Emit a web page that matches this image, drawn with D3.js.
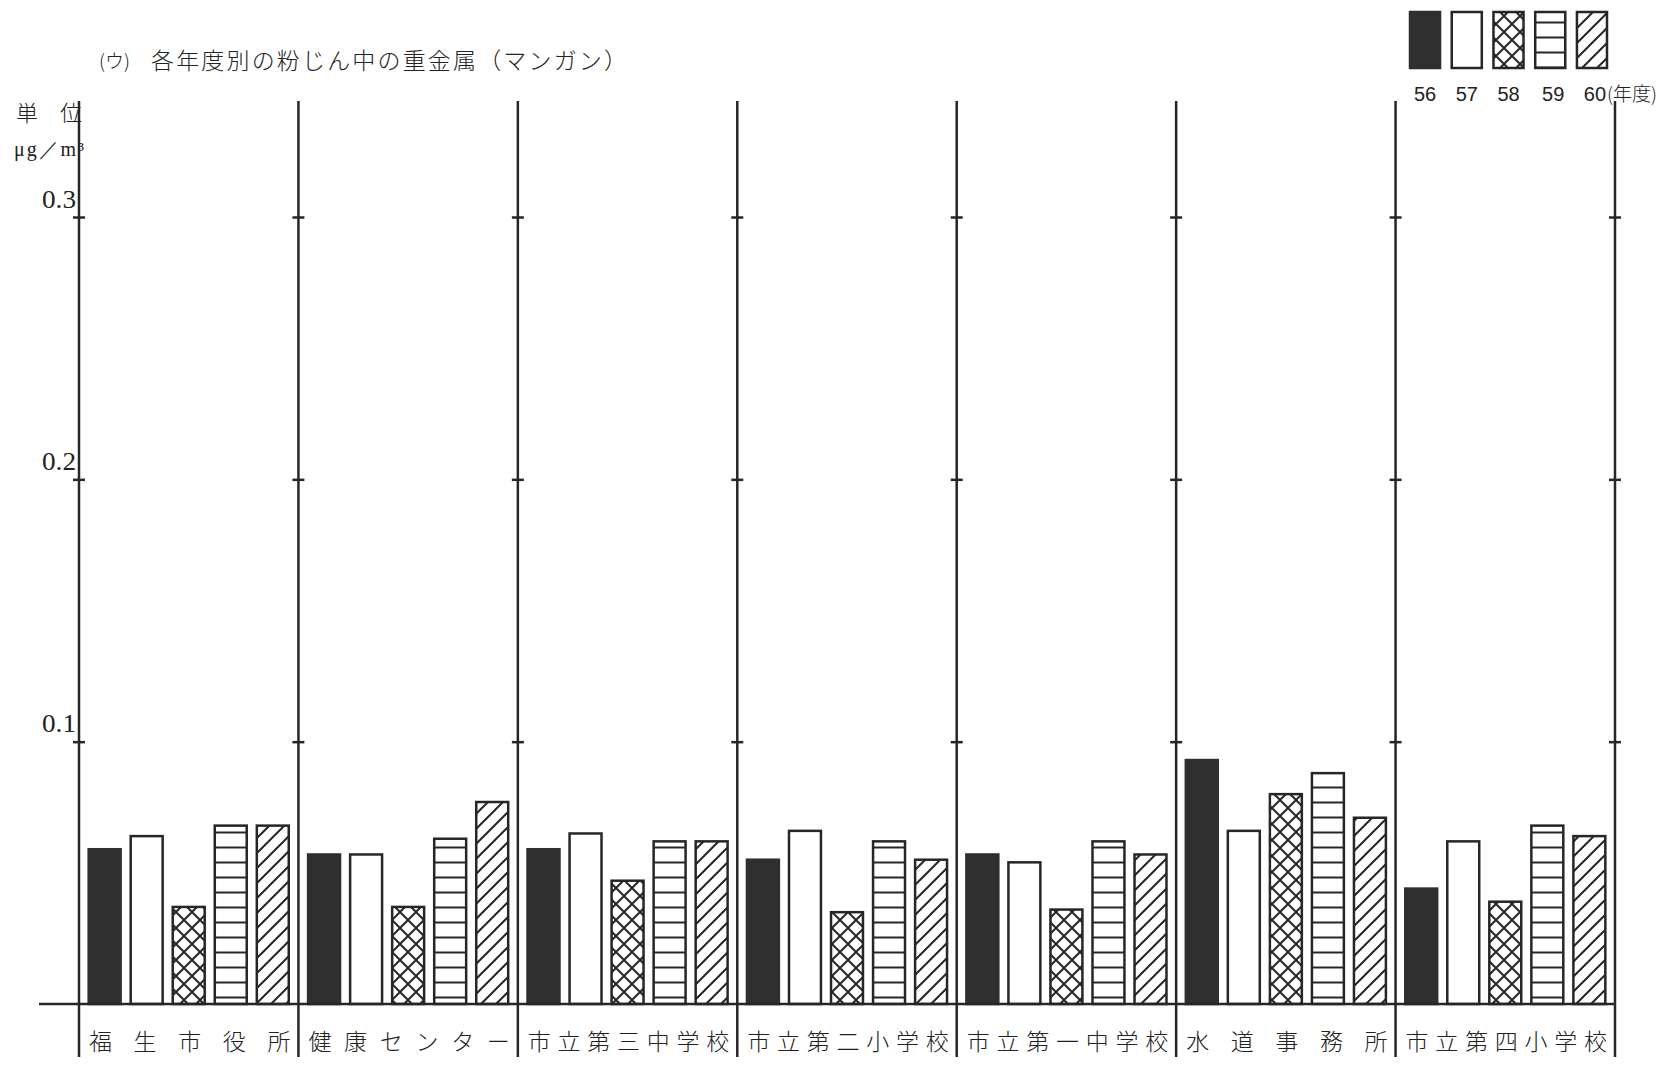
<!DOCTYPE html>
<html><head><meta charset="utf-8">
<script src="https://cdn.jsdelivr.net/npm/d3@7"></script>
<style>
body{margin:0;background:#fff;}
svg{display:block;}
text{fill:#222;}
</style></head>
<body>
<svg id="chart" width="1665" height="1067"></svg>
<script>
const categories = ["福生市役所","健康センター","市立第三中学校","市立第二小学校","市立第一中学校","水道事務所","市立第四小学校"];
const years = ["56","57","58","59","60"];
const y56 = [0.059, 0.057, 0.059, 0.055, 0.057, 0.093, 0.044];
const y57 = [0.064, 0.057, 0.065, 0.066, 0.054, 0.066, 0.062];
const y58 = [0.037, 0.037, 0.047, 0.035, 0.036, 0.080, 0.039];
const y59 = [0.068, 0.063, 0.062, 0.062, 0.062, 0.088, 0.068];
const y60 = [0.068, 0.077, 0.062, 0.055, 0.057, 0.071, 0.064];
const series = [y56, y57, y58, y59, y60];
const tickValues = [0.1, 0.2, 0.3];
const tickLabels = ["0.1", "0.2", "0.3"];
const title = "各年度別の粉じん中の重金属（マンガン）";
const titleMark = "(ウ)";
const unitLabel1 = "単　位";
const unitLabel2 = "μg／m³";
const legendUnit = "(年度)";

const svg = d3.select("#chart");
svg.append("rect").attr("width",1665).attr("height",1067).attr("fill","#fff");

const defs = svg.append("defs");
const ink = "#262626";
// patterns
const pCross = defs.append("pattern").attr("id","pat58").attr("patternUnits","userSpaceOnUse").attr("width",16).attr("height",16);
pCross.append("rect").attr("width",16).attr("height",16).attr("fill","#fff");
pCross.append("path").attr("d","M-2,-2L18,18M-2,18L18,-2").attr("stroke",ink).attr("stroke-width",2);
const pHor = defs.append("pattern").attr("id","pat59").attr("patternUnits","userSpaceOnUse").attr("width",10).attr("height",15);
pHor.append("rect").attr("width",10).attr("height",15).attr("fill","#fff");
pHor.append("path").attr("d","M-1,7.5L11,7.5").attr("stroke",ink).attr("stroke-width",2);
const pDiag = defs.append("pattern").attr("id","pat60").attr("patternUnits","userSpaceOnUse").attr("width",15).attr("height",15);
pDiag.append("rect").attr("width",15).attr("height",15).attr("fill","#fff");
pDiag.append("path").attr("d","M-1,16L16,-1M-3,3L3,-3M12,18L18,12").attr("stroke",ink).attr("stroke-width",2);

const fills = ["#2f2f2f", "#fff", "url(#pat58)", "url(#pat59)", "url(#pat60)"];

const x0 = d3.scaleBand().domain(categories).range([79, 1615]).paddingInner(0).paddingOuter(0);
const x1 = d3.scaleBand().domain(years).range([0, x0.bandwidth()]).paddingInner(0.24).paddingOuter(0.23);
const y = d3.scaleLinear().domain([0, 0.3]).range([1004, 217]);

// bars
const g = svg.append("g");
categories.forEach((c, ci) => {
  years.forEach((yr, si) => {
    const v = series[si][ci];
    g.append("rect")
      .attr("x", x0(c) + x1(yr))
      .attr("y", y(v))
      .attr("width", x1.bandwidth())
      .attr("height", y(0) - y(v))
      .attr("fill", fills[si])
      .attr("stroke", si === 0 ? "#2f2f2f" : ink)
      .attr("stroke-width", 2.5);
  });
});

// dividers with ticks
const dividerXs = categories.map(c => x0(c)).concat([x0.range()[1]]);
dividerXs.forEach((dx, i) => {
  svg.append("line").attr("x1",dx).attr("x2",dx).attr("y1",101).attr("y2",1057)
    .attr("stroke",ink).attr("stroke-width",2.5);
  const ax = svg.append("g").attr("transform",`translate(${dx},0)`)
    .call(d3.axisLeft(y).tickValues(tickValues).tickSize(0).tickFormat(""));
  ax.select(".domain").remove();
  ax.selectAll(".tick line").attr("x1",-6).attr("x2",6).attr("stroke",ink).attr("stroke-width",2.5);
  if (i === 0) {
    ax.selectAll(".tick text")
      .text((d, k) => tickLabels[k])
      .attr("x",-37).attr("dy","-0.4em")
      .attr("font-family","'Liberation Serif', serif").attr("font-size",25)
      .attr("textLength",34).attr("lengthAdjust","spacingAndGlyphs")
      .attr("fill","#222").attr("text-anchor","start");
  }
});

// baseline
svg.append("line").attr("x1",39).attr("x2",x0.range()[1]).attr("y1",y(0)).attr("y2",y(0))
  .attr("stroke",ink).attr("stroke-width",2.5);

// category labels
categories.forEach(c => {
  svg.append("text")
    .attr("x", x0(c) + 10).attr("y", 1050)
    .attr("font-family","'Noto Sans CJK JP', sans-serif").attr("font-size",23).attr("font-weight",300)
    .attr("textLength", x0.bandwidth() - 18).attr("lengthAdjust","spacing")
    .text(c);
});

// title
svg.append("text").attr("x",99).attr("y",68).attr("font-family","'Noto Sans CJK JP', sans-serif")
  .attr("font-size",19).attr("font-weight",300).text(titleMark);
svg.append("text").attr("x",151).attr("y",69).attr("font-family","'Noto Sans CJK JP', sans-serif")
  .attr("font-size",23).attr("font-weight",300).attr("textLength",476).attr("lengthAdjust","spacing").text(title);

// unit labels
svg.append("text").attr("x",16).attr("y",121).attr("font-family","'Noto Sans CJK JP', sans-serif")
  .attr("font-size",22).attr("font-weight",300).text(unitLabel1);
svg.append("text").attr("x",14).attr("y",156).attr("font-family","'Liberation Serif', serif")
  .attr("font-size",20).attr("textLength",70).attr("lengthAdjust","spacing").text(unitLabel2);

// legend
const legX = d3.scaleBand().domain(years).range([1410, 1607]).paddingInner(0.28).paddingOuter(0);
years.forEach((yr, si) => {
  svg.append("rect").attr("x",legX(yr)).attr("y",12).attr("width",legX.bandwidth()).attr("height",56)
    .attr("fill",fills[si]).attr("stroke", si === 0 ? "#2f2f2f" : ink).attr("stroke-width",2.5);
  svg.append("text").attr("x",legX(yr) + legX.bandwidth()/2 + (si >= 3 ? 3 : 0)).attr("y",101)
    .attr("text-anchor","middle").attr("font-family","'Liberation Sans', sans-serif").attr("font-size",20)
    .text(yr);
});
svg.append("text").attr("x",legX("60") + legX.bandwidth()/2 + 15).attr("y",101)
  .attr("font-family","'Noto Sans CJK JP', sans-serif").attr("font-size",19).attr("font-weight",300)
  .text(legendUnit);
</script>
</body></html>
